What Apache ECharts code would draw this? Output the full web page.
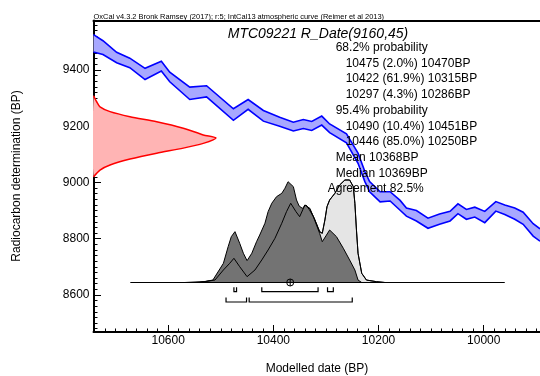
<!DOCTYPE html>
<html><head><meta charset="utf-8">
<script src="https://cdn.jsdelivr.net/npm/echarts@6.0.0/dist/echarts.min.js"></script>
<style>html,body{margin:0;padding:0;background:#fff}#c{width:540px;height:376px}</style>
</head><body><div id="c"></div>
<script>
// ---- data ----
const xTickLabels = [10600, 10400, 10200, 10000];
const yTickLabels = [8600, 8800, 9000, 9200, 9400];

// IntCal13 calibration band (calendar BP, upper and lower 14C edges)
const calYears = [10742,10724,10698,10673,10644,10613,10597,10559,10527,10476,10448,10419,10388,10362,10343,10327,10308,10293,10261,10239,10226,10217,10197,10178,10159,10147,10128,10106,10084,10064,10049,10033,10017,9998,9977,9960,9941,9925,9906,9893];
const calHi = [9526,9504,9463,9442,9406,9431,9392,9339,9344,9262,9295,9256,9232,9214,9224,9217,9236,9208,9173,9104,9039,9003,8967,8967,8936,8909,8900,8873,8888,8897,8924,8904,8912,8897,8932,8920,8909,8894,8853,8835];
const calLo = [9464,9455,9426,9408,9366,9396,9358,9295,9304,9221,9260,9218,9200,9183,9192,9185,9204,9177,9141,9068,9003,8967,8931,8934,8901,8880,8863,8837,8851,8863,8889,8869,8877,8857,8898,8886,8869,8851,8809,8791];

// radiocarbon measurement R_Date(9160,45): relative density vs 14C age
const r14cValues = [9308,9287,9269,9252,9234,9216,9193,9169,9158,9139,9122,9104,9083,9062,9044,9020];
const r14cDensity = [0,0.026,0.053,0.135,0.298,0.516,0.733,0.896,1.0,0.896,0.733,0.516,0.298,0.135,0.053,0];

// unmodelled (likelihood) calibrated distribution
const likeYears = [10540,10511,10495,10483,10475,10464,10450,10435,10422,10410,10397,10384,10375,10367,10357,10350,10340,10331,10321,10312,10307,10302,10298,10293,10283,10274,10264,10255,10248,10245,10242,10239,10232,10223,10204,10188];
const likeProb = [0,0.024,0.122,0.187,0.236,0.154,0.057,0.122,0.220,0.317,0.431,0.578,0.691,0.773,0.691,0.642,0.756,0.724,0.610,0.496,0.480,0.610,0.740,0.805,0.870,0.951,1.0,1.0,0.935,0.773,0.512,0.285,0.090,0.024,0.008,0];

// modelled (posterior) distribution
const postYears = [10568,10530,10515,10495,10486,10480,10473,10464,10457,10450,10441,10432,10426,10416,10410,10403,10394,10384,10378,10372,10369,10362,10356,10351,10345,10338,10332,10324,10318,10312,10307,10299,10293,10280,10267,10255,10245,10239,10232];
const postProb = [0,0.01,0.024,0.187,0.349,0.447,0.496,0.382,0.285,0.213,0.285,0.398,0.463,0.578,0.691,0.773,0.837,0.870,0.919,0.983,1.0,0.935,0.805,0.746,0.724,0.756,0.714,0.642,0.561,0.480,0.398,0.463,0.512,0.447,0.334,0.220,0.122,0.024,0];

const baselineRange = [10672, 9960];
const range68 = [[10475,10470],[10422,10315],[10297,10286]];
const range95 = [[10490,10451],[10446,10250]];
const meanDate = 10368;

const headerText = 'OxCal v4.3.2 Bronk Ramsey (2017); r:5; IntCal13 atmospheric curve (Reimer et al 2013)';
const titleText = 'MTC09221 R_Date(9160,45)';
const statsLines = ['68.2% probability','10475 (2.0%) 10470BP','10422 (61.9%) 10315BP','10297 (4.3%) 10286BP','95.4% probability','10490 (10.4%) 10451BP','10446 (85.0%) 10250BP','Mean 10368BP','Median 10369BP','Agreement 82.5%'];
const xTitle = 'Modelled date (BP)';
const yTitle = 'Radiocarbon determination (BP)';

// ---- rendering ----
const FONT = '"Liberation Sans", Arial, Helvetica, sans-serif';
const X0 = 9893, X1 = 10742;
const Y0 = 8468, Y1 = 9576;
const minorX = []; for (let v = 9900; v <= 10740; v += 20) if (v % 200) minorX.push(v);
const minorY = []; for (let v = 8480; v <= 9560; v += 20) if (v % 200) minorY.push(v);
const plain = v => String(v);

const chart = echarts.init(document.getElementById('c'), null, {renderer: 'canvas'});
const noSplit = {show: false};
const blackLine = {color: '#000', width: 1};

const texts = [];
texts.push({type:'text', x:93.5, y:16.5, z:100, style:{text:headerText, fontSize:7.45, fontFamily:FONT, fill:'#000', align:'left', verticalAlign:'middle'}});
texts.push({type:'text', x:318, y:34, z:100, style:{text:titleText, fontSize:14, fontStyle:'italic', fontFamily:FONT, fill:'#000', align:'center', verticalAlign:'middle'}});
statsLines.forEach((s, i) => {
  let x = 335.7;
  if (/^\d{5}/.test(s)) x = 345.7;
  if (/^Agreement/.test(s)) x = 327.7;
  texts.push({type:'text', x:x, y:47.7 + i * 15.7, z:100, style:{text:s, fontSize:12, fontFamily:FONT, fill:'#000', align:'left', verticalAlign:'middle'}});
});
texts.push({type:'text', x:317, y:369, z:100, style:{text:xTitle, fontSize:12, fontFamily:FONT, fill:'#000', align:'center', verticalAlign:'middle'}});
texts.push({type:'text', x:17, y:176, z:100, rotation:Math.PI/2, style:{text:yTitle, fontSize:12, fontFamily:FONT, fill:'#000', align:'center', verticalAlign:'middle'}});

const option = {
  animation: false,
  backgroundColor: '#fff',
  grid: {left: 93.5, right: 0, top: 20.5, bottom: 44, containLabel: false},
  xAxis: [
    {type:'value', position:'bottom', min:X0, max:X1, inverse:true,
     axisLine:{show:true, onZero:false, lineStyle:{color:'#000', width:2}},
     axisTick:{show:true, inside:true, length:7, customValues:xTickLabels, lineStyle:blackLine},
     axisLabel:{show:true, customValues:xTickLabels, formatter:plain, margin:3, fontSize:12, fontFamily:FONT, color:'#000'},
     splitLine:noSplit},
    {type:'value', position:'top', min:0, max:3.645,
     axisLine:{show:true, onZero:false, lineStyle:{color:'#000', width:2}},
     axisTick:{show:false}, axisLabel:{show:false}, splitLine:noSplit},
    {type:'value', position:'bottom', min:X0, max:X1, inverse:true,
     axisLine:{show:false, onZero:false},
     axisTick:{show:true, inside:true, length:3.5, customValues:minorX, lineStyle:blackLine},
     axisLabel:{show:false}, splitLine:noSplit}
  ],
  yAxis: [
    {type:'value', position:'left', min:Y0, max:Y1,
     axisLine:{show:true, onZero:false, lineStyle:{color:'#000', width:2}},
     axisTick:{show:true, inside:true, length:7.5, customValues:yTickLabels, lineStyle:blackLine},
     axisLabel:{show:true, customValues:yTickLabels, formatter:plain, margin:4, fontSize:12, fontFamily:FONT, color:'#000'},
     splitLine:noSplit},
    {type:'value', min:-0.483, max:2.556, show:false, splitLine:noSplit, axisLine:{onZero:false}},
    {type:'value', position:'left', min:Y0, max:Y1,
     axisLine:{show:false, onZero:false},
     axisTick:{show:true, inside:true, length:4, customValues:minorY, lineStyle:blackLine},
     axisLabel:{show:false}, splitLine:noSplit}
  ],
  series: [
    {type:'custom', name:'IntCal13', xAxisIndex:0, yAxisIndex:0, clip:true, silent:true, z:2,
     data:[[calYears[0], calHi[0]]],
     renderItem: (params, api) => {
       const top = calYears.map((t, i) => api.coord([t, calHi[i]]));
       const bot = calYears.map((t, i) => api.coord([t, calLo[i]]));
       return {type:'group', children:[
         {type:'polygon', shape:{points: top.concat(bot.slice().reverse())}, style:{fill:'#a8a8ff'}},
         {type:'polyline', shape:{points: top}, style:{stroke:'#0000ff', lineWidth:1.6, fill:null}},
         {type:'polyline', shape:{points: bot}, style:{stroke:'#0000ff', lineWidth:1.6, fill:null}}
       ]};
     }},
    {type:'custom', name:'R_Date', xAxisIndex:1, yAxisIndex:0, clip:true, silent:true, z:2,
     data:[[r14cDensity[0], r14cValues[0]]],
     renderItem: (params, api) => {
       const pts = r14cValues.map((v, i) => api.coord([r14cDensity[i], v]));
       return {type:'group', children:[
         {type:'polygon', shape:{points: pts, smooth:0.25}, style:{fill:'#ffb4b4'}},
         {type:'polyline', shape:{points: pts, smooth:0.25}, style:{stroke:'#ff0000', lineWidth:1.5, fill:null}}
       ]};
     }},
    {type:'line', name:'likelihood', xAxisIndex:0, yAxisIndex:1, silent:true, z:3, symbol:'none',
     data: likeYears.map((t, i) => [t, likeProb[i]]),
     lineStyle:{color:'#000', width:1}, areaStyle:{color:'#e5e5e5', opacity:1}},
    {type:'line', name:'posterior', xAxisIndex:0, yAxisIndex:1, silent:true, z:4, symbol:'none',
     data: postYears.map((t, i) => [t, postProb[i]]),
     lineStyle:{color:'#000', width:1}, areaStyle:{color:'#737373', opacity:1}},
    {type:'line', name:'likelihood outline', xAxisIndex:0, yAxisIndex:1, silent:true, z:5, symbol:'none',
     data: likeYears.map((t, i) => [t, likeProb[i]]),
     lineStyle:{color:'#000', width:1}},
    {type:'line', name:'baseline', xAxisIndex:0, yAxisIndex:1, silent:true, z:6, symbol:'none',
     data: baselineRange.map(t => [t, 0]),
     lineStyle:{color:'#000', width:1.2}},
    {type:'custom', name:'ranges', xAxisIndex:0, yAxisIndex:1, clip:false, silent:true, z:7,
     data:[[meanDate, 0]],
     renderItem: (params, api) => {
       const m = api.coord([meanDate, 0]);
       const kids = [];
       const mk = (r, dy) => {
         const a = api.coord([r[0], 0])[0], b = api.coord([r[1], 0])[0];
         const y = m[1] + dy;
         kids.push({type:'polyline', shape:{points:[[a, y - 4.5], [a, y], [b, y], [b, y - 4.5]]}, style:{stroke:'#000', lineWidth:1.2, fill:null}});
       };
       range68.forEach(r => mk(r, 9.2));
       range95.forEach(r => mk(r, 19.5));
       kids.push({type:'circle', shape:{cx:m[0], cy:m[1], r:3.5}, style:{stroke:'#000', lineWidth:1, fill:null}});
       kids.push({type:'line', shape:{x1:m[0] - 3.5, y1:m[1], x2:m[0] + 3.5, y2:m[1]}, style:{stroke:'#000', lineWidth:1}});
       kids.push({type:'line', shape:{x1:m[0], y1:m[1] - 3.5, x2:m[0], y2:m[1] + 3.5}, style:{stroke:'#000', lineWidth:1}});
       return {type:'group', children:kids};
     }}
  ],
  graphic: {elements: texts}
};
chart.setOption(option);
</script>
</body></html>
